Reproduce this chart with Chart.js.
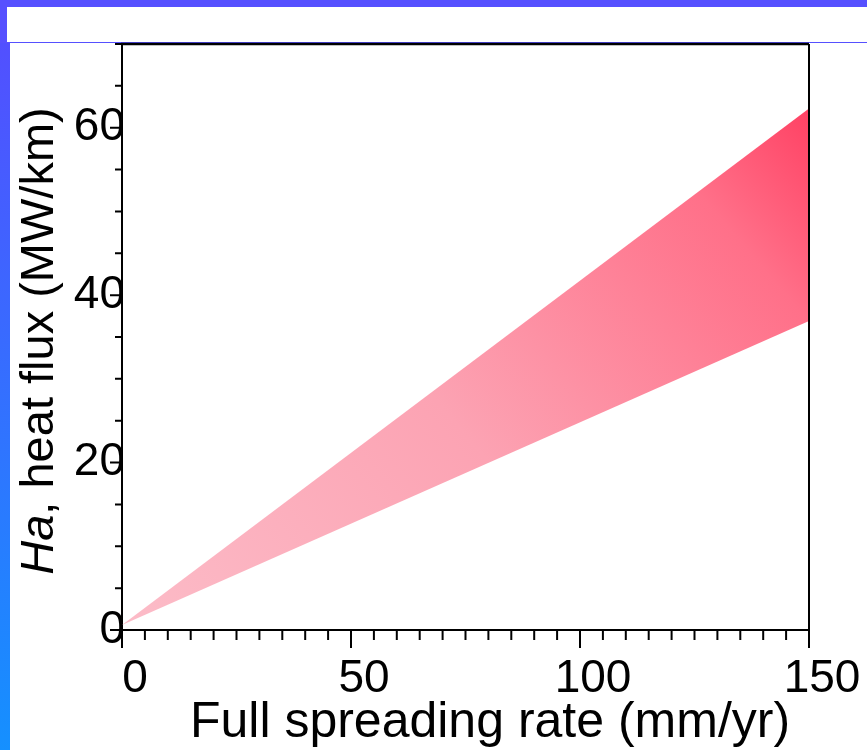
<!DOCTYPE html>
<html lang="en">
<head>
    <meta charset="UTF-8">
    <title>Heat flux vs spreading rate</title>
    <script src="https://cdn.jsdelivr.net/npm/chart.js"></script>
    <style>
        html, body {
            margin: 0;
            padding: 0;
            background: #fff;
            overflow: hidden;
        }
        #page {
            position: relative;
            width: 867px;
            height: 750px;
        }
        .topBar { position: absolute; left: 0; top: 0; width: 867px; height: 7px; background: #5650ff; }
        .topLine { position: absolute; left: 0; top: 42px; width: 867px; height: 1px; background: #5650ff; }
        .leftTop { position: absolute; left: 0; top: 0; width: 7px; height: 43px; background: #5650ff; }
        .leftBar { position: absolute; left: 0; top: 43px; width: 10px; height: 707px;
                   background: linear-gradient(to bottom, #5250ff, #1590ff); }
        #chartBox { position: absolute; left: 0; top: 0; width: 867px; height: 750px; }
    </style>
</head>
<body>
<div id="page">
    <div class="topBar"></div>
    <div class="topLine"></div>
    <div class="leftTop"></div>
    <div class="leftBar"></div>
    <div id="chartBox"><canvas id="fluxChart"></canvas></div>
</div>

<script>
    // full spreading rate (mm/yr) at the band ends
    const rateX = [0, 150];
    // upper and lower edge of the heat flux band (MW/km)
    const upperFlux = [0.6, 62.3];
    const lowerFlux = [0.6, 36.9];
    // labelled ticks
    const xTickLabels = [0, 50, 100, 150];
    const yTickLabels = [0, 20, 40, 60];

    const FONT = "'Liberation Sans', Arial, Helvetica, sans-serif";
    Chart.defaults.font.family = FONT;
    Chart.defaults.color = '#000';

    function bandFill(context) {
        const chart = context.chart;
        const area = chart.chartArea;
        if (!area) return 'rgba(252, 170, 185, 1)';
        const g = chart.ctx.createLinearGradient(area.left, area.bottom, area.right, area.top);
        g.addColorStop(0, '#fcbcc8');
        g.addColorStop(0.43, '#fca3b3');
        g.addColorStop(0.8, '#ff7089');
        g.addColorStop(1, '#ff3358');
        return g;
    }

    // frame, tick marks and axis titles
    const framePlugin = {
        id: 'frame',
        afterDraw(chart) {
            const { ctx, chartArea: a, scales } = chart;
            const xs = scales.x, ys = scales.y;
            ctx.save();
            ctx.strokeStyle = '#000';

            ctx.lineWidth = 2.5;
            ctx.beginPath();
            ctx.moveTo(a.left - 1, a.top);
            ctx.lineTo(a.right, a.top);
            ctx.stroke();
            ctx.lineWidth = 2;
            ctx.beginPath();
            ctx.moveTo(a.right, a.top);
            ctx.lineTo(a.right, a.bottom);
            ctx.stroke();

            ctx.beginPath();
            xs.ticks.forEach(t => {
                const px = xs.getPixelForValue(t.value);
                const len = xTickLabels.includes(t.value) ? 18 : 10;
                ctx.moveTo(px, a.bottom);
                ctx.lineTo(px, a.bottom + len);
            });
            ys.ticks.forEach(t => {
                const py = ys.getPixelForValue(t.value);
                const len = yTickLabels.includes(t.value) ? 12 : 7;
                ctx.moveTo(a.left, py);
                ctx.lineTo(a.left - len, py);
            });
            ctx.stroke();

            // x title
            ctx.fillStyle = '#000';
            ctx.font = '50px ' + FONT;
            ctx.textAlign = 'center';
            ctx.textBaseline = 'alphabetic';
            ctx.fillText('Full spreading rate (mm/yr)', 490, 737);

            // y title, "Ha" in italics
            const part1 = 'Ha';
            const part2 = ', heat flux (MW/km)';
            ctx.font = 'italic 47px ' + FONT;
            const w1 = ctx.measureText(part1).width;
            ctx.font = '47px ' + FONT;
            const w2 = ctx.measureText(part2).width;
            const total = w1 + w2;
            ctx.translate(40, 341);
            ctx.rotate(-Math.PI / 2);
            ctx.textAlign = 'left';
            ctx.textBaseline = 'middle';
            ctx.font = 'italic 47px ' + FONT;
            ctx.fillText(part1, -total / 2, 0);
            ctx.font = '47px ' + FONT;
            ctx.fillText(part2, -total / 2 + w1, 0);
            ctx.restore();
        }
    };

    const ctx = document.getElementById('fluxChart').getContext('2d');
    new Chart(ctx, {
        type: 'line',
        data: {
            datasets: [
                {
                    label: 'upper',
                    data: rateX.map((x, i) => ({ x: x, y: upperFlux[i] })),
                    borderWidth: 0,
                    pointRadius: 0,
                    fill: 1,
                    backgroundColor: bandFill
                },
                {
                    label: 'lower',
                    data: rateX.map((x, i) => ({ x: x, y: lowerFlux[i] })),
                    borderWidth: 0,
                    pointRadius: 0,
                    fill: false
                }
            ]
        },
        options: {
            responsive: true,
            maintainAspectRatio: false,
            animation: false,
            layout: { padding: { top: 44, right: 58, bottom: 0, left: 0 } },
            plugins: {
                legend: { display: false },
                tooltip: { enabled: false }
            },
            scales: {
                x: {
                    type: 'linear',
                    min: 0,
                    max: 150,
                    afterFit: s => { s.height = 120; s.paddingLeft = 0; s.paddingRight = 0; },
                    grid: { display: true, drawOnChartArea: false, drawTicks: false },
                    border: { display: true, color: '#000', width: 2 },
                    ticks: {
                        stepSize: 5,
                        autoSkip: false,
                        maxRotation: 0,
                        padding: 22,
                        labelOffset: 13,
                        font: { size: 46 },
                        callback: v => xTickLabels.includes(v) ? String(v) : ''
                    }
                },
                y: {
                    min: 0,
                    max: 70,
                    afterFit: s => { s.width = 122; s.paddingTop = 0; s.paddingBottom = 0; },
                    grid: { display: true, drawOnChartArea: false, drawTicks: false },
                    border: { display: true, color: '#000', width: 2 },
                    ticks: {
                        stepSize: 5,
                        autoSkip: false,
                        padding: -3,
                        font: { size: 46 },
                        callback: v => yTickLabels.includes(v) ? String(v) : ''
                    }
                }
            }
        },
        plugins: [framePlugin]
    });
</script>
</body>
</html>
